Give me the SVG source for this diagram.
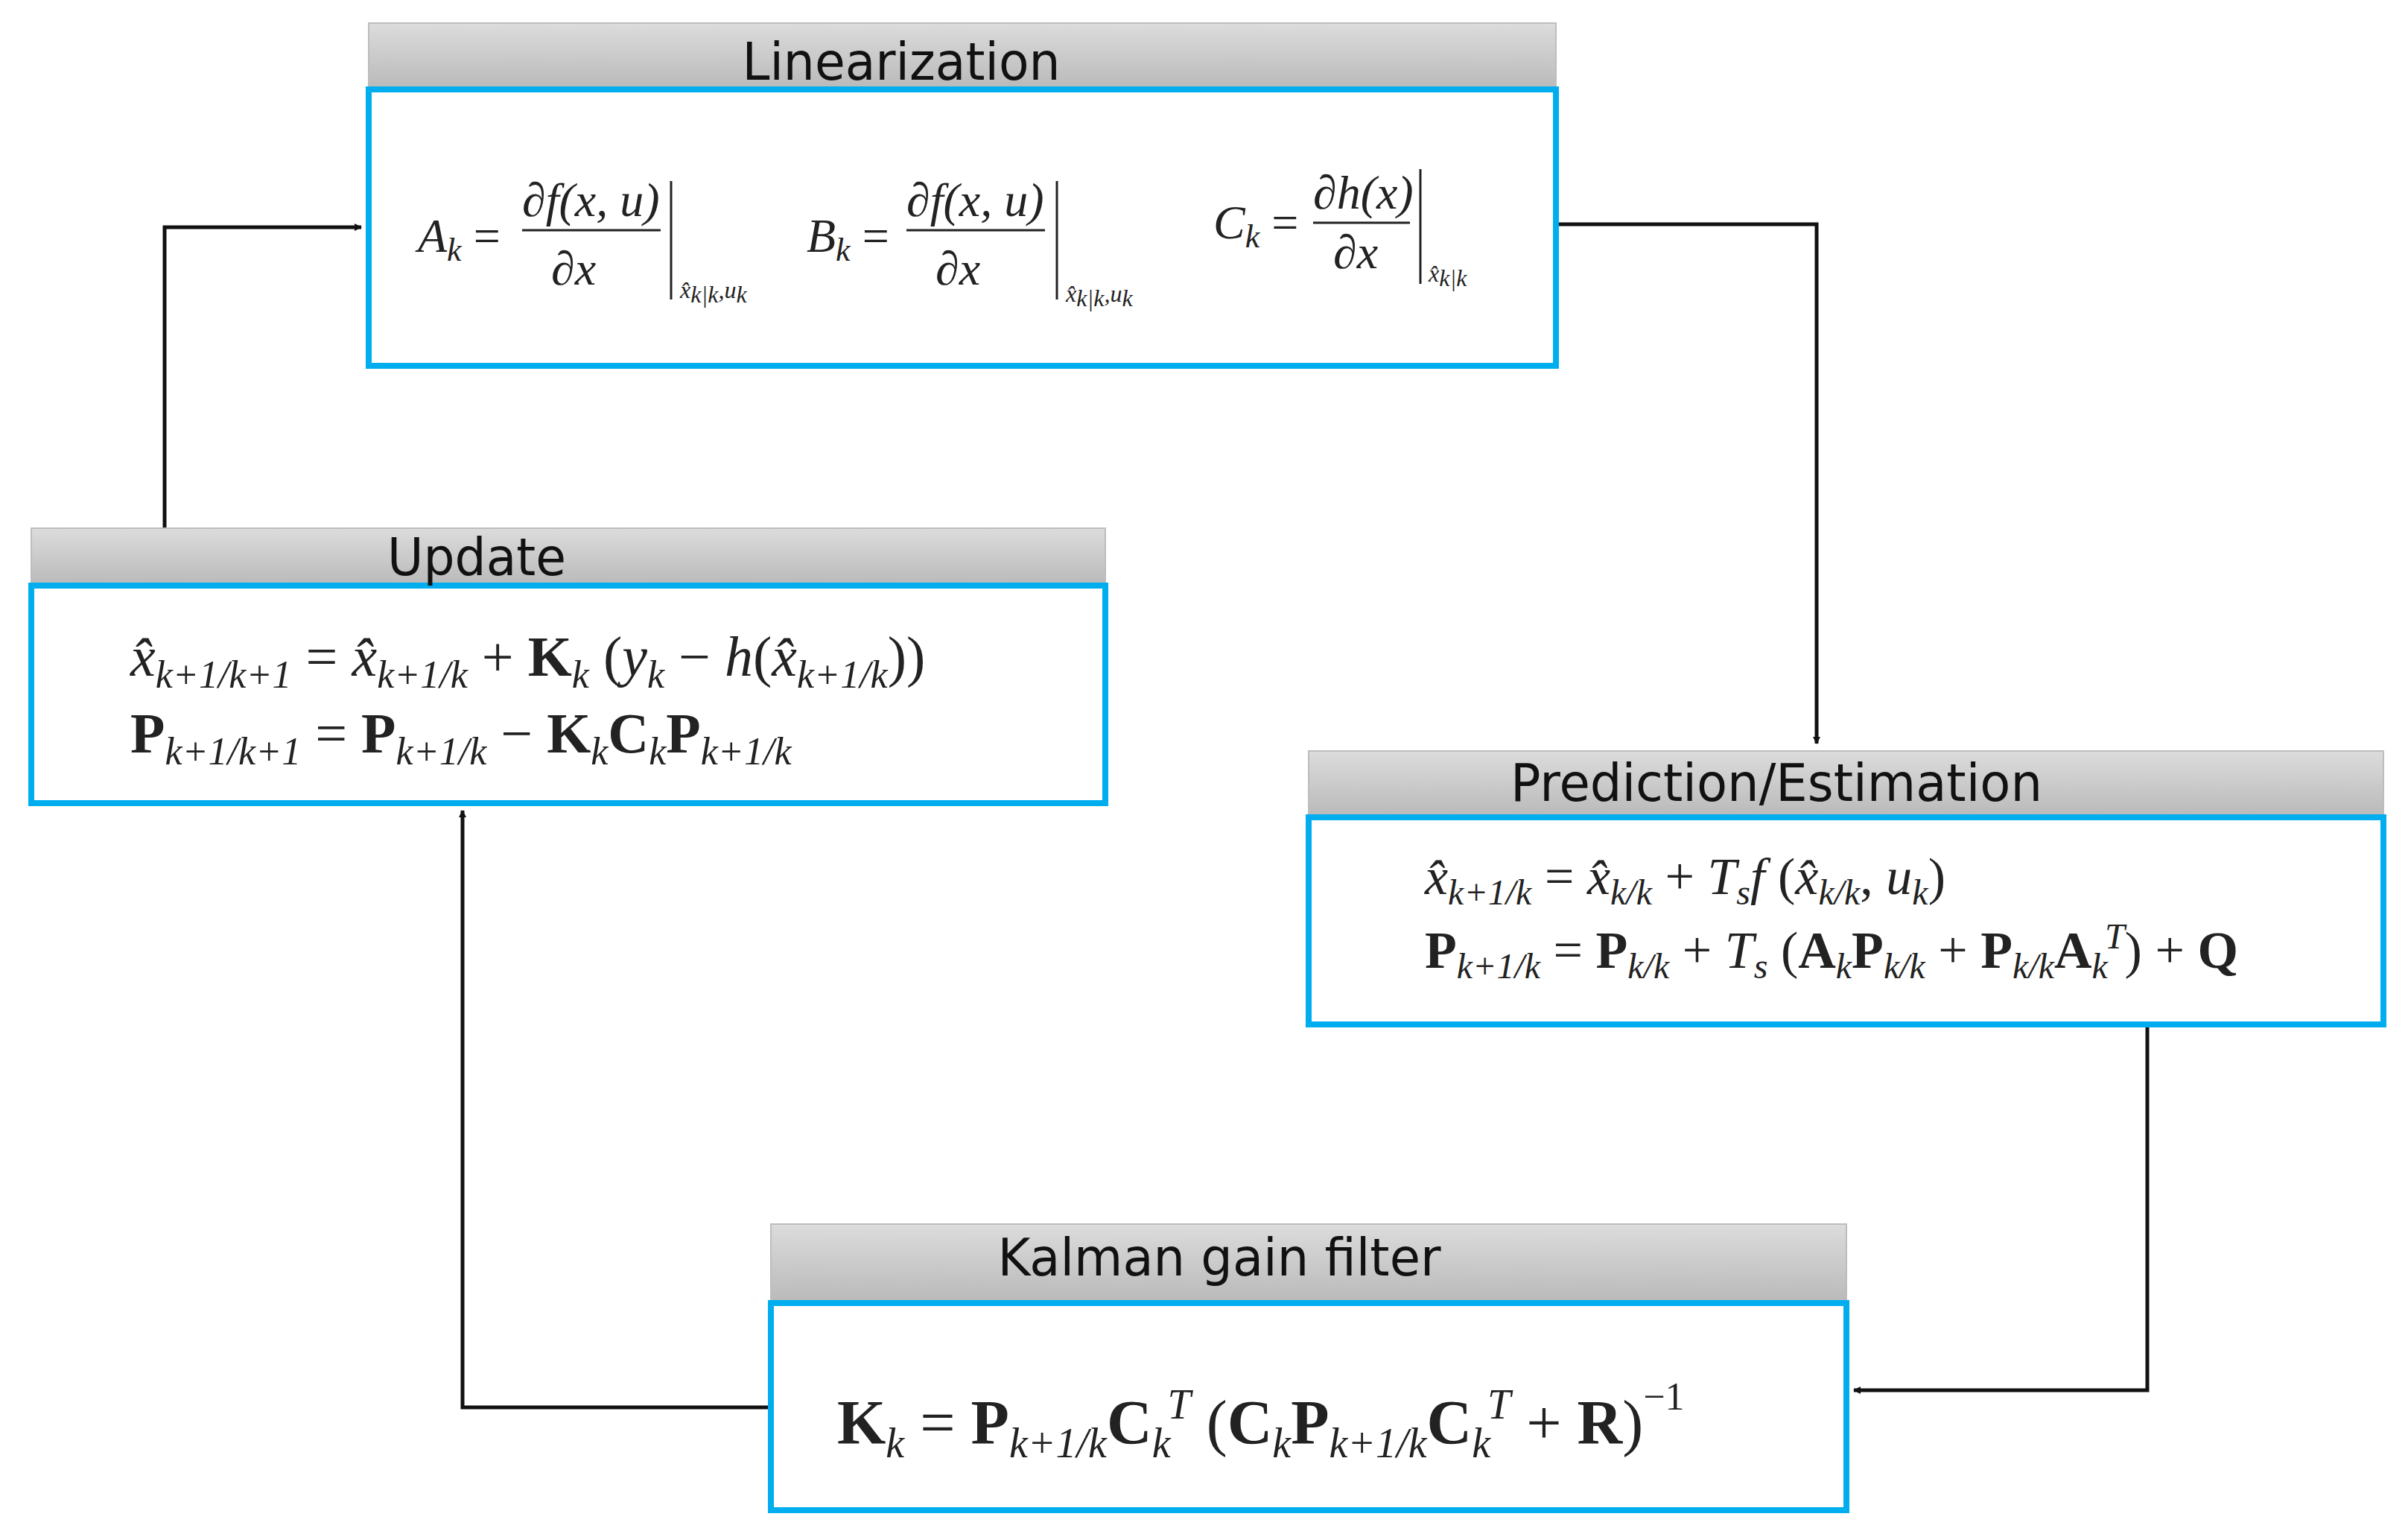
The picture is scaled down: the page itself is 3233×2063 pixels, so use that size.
<svg xmlns="http://www.w3.org/2000/svg" width="3233" height="2063" viewBox="0 0 3233 2063">
<style>
.hdr{fill:url(#g);stroke:#bdbdbd;stroke-width:2}
.box{fill:#fff;stroke:#00aeef;stroke-width:8}
.t{font-family:"DejaVu Sans",sans-serif;font-size:70px;fill:#111;text-anchor:middle}
.m{font-family:"Liberation Serif",serif;font-size:64px;fill:#222}
.i{font-style:italic}
.b{font-weight:bold}
.s{font-size:44px}
.ss{font-size:32px}
.c{stroke:#111;stroke-width:5;fill:none}
.fr{stroke:#222;stroke-width:3}
</style>
<defs>
<linearGradient id="g" x1="0" y1="0" x2="0" y2="1"><stop offset="0" stop-color="#dcdcdc"/><stop offset="1" stop-color="#b9b9b9"/></linearGradient>
<marker id="a" markerWidth="10" markerHeight="10" refX="9" refY="5" orient="auto" markerUnits="userSpaceOnUse" viewBox="0 0 10 10"><path d="M0,0 L10,5 L0,10 z" fill="#111"/></marker>
</defs>
<rect width="3233" height="2063" fill="#fff"/>

<g id="connectors">
<path class="c" d="M221,709 V305 H485" marker-end="url(#a)"/>
<path class="c" d="M2089,301 H2439 V998" marker-end="url(#a)"/>
<path class="c" d="M2883,1375 V1866 H2489" marker-end="url(#a)"/>
<path class="c" d="M1035,1889 H621 V1088" marker-end="url(#a)"/>
</g>

<g id="linearization">
<rect class="hdr" x="495" y="31" width="1594" height="89"/>
<rect class="box" x="495" y="120" width="1594" height="371"/>
<text class="t" x="1210" y="107" textLength="427" lengthAdjust="spacingAndGlyphs">Linearization</text>
<text class="m i" x="561" y="338">A<tspan class="s" dy="12">k</tspan><tspan dy="-12" font-style="normal"> =</tspan></text>
<text class="m i" x="701" y="290">∂f(x, u)</text>
<line class="fr" x1="701" y1="309" x2="887" y2="309"/>
<text class="m i" x="740" y="382">∂x</text>
<line class="fr" x1="901" y1="243" x2="901" y2="402"/>
<text class="m i ss" x="913" y="400">x̂<tspan dy="6">k|k</tspan><tspan dy="-6">,u</tspan><tspan dy="6">k</tspan></text>
<text class="m i" x="1083" y="338">B<tspan class="s" dy="12">k</tspan><tspan dy="-12" font-style="normal"> =</tspan></text>
<text class="m i" x="1217" y="290">∂f(x, u)</text>
<line class="fr" x1="1217" y1="309" x2="1403" y2="309"/>
<text class="m i" x="1256" y="382">∂x</text>
<line class="fr" x1="1419" y1="243" x2="1419" y2="402"/>
<text class="m i ss" x="1431" y="405">x̂<tspan dy="6">k|k</tspan><tspan dy="-6">,u</tspan><tspan dy="6">k</tspan></text>
<text class="m i" x="1629" y="320">C<tspan class="s" dy="12">k</tspan><tspan dy="-12" font-style="normal"> =</tspan></text>
<text class="m i" x="1763" y="280">∂h(x)</text>
<line class="fr" x1="1763" y1="299" x2="1893" y2="299"/>
<text class="m i" x="1790" y="360">∂x</text>
<line class="fr" x1="1907" y1="227" x2="1907" y2="381"/>
<text class="m i ss" x="1918" y="378">x̂<tspan dy="6">k|k</tspan></text>
</g>

<g id="update">
<rect class="hdr" x="42" y="709" width="1442" height="77"/>
<rect class="box" x="42" y="786" width="1442" height="292"/>
<text class="t" x="640" y="772" textLength="240" lengthAdjust="spacingAndGlyphs">Update</text>
<text class="m" x="175" y="907" style="font-size:76px"><tspan class="i">x̂</tspan><tspan class="i" font-size="52" dy="16">k+1/k+1</tspan><tspan dy="-16"> = </tspan><tspan class="i">x̂</tspan><tspan class="i" font-size="52" dy="16">k+1/k</tspan><tspan dy="-16"> + </tspan><tspan class="b">K</tspan><tspan class="i" font-size="52" dy="16">k</tspan><tspan dy="-16"> (</tspan><tspan class="i">y</tspan><tspan class="i" font-size="52" dy="16">k</tspan><tspan dy="-16"> − </tspan><tspan class="i">h</tspan>(<tspan class="i">x̂</tspan><tspan class="i" font-size="52" dy="16">k+1/k</tspan><tspan dy="-16">))</tspan></text>
<text class="m" x="175" y="1010" style="font-size:76px"><tspan class="b">P</tspan><tspan class="i" font-size="52" dy="16">k+1/k+1</tspan><tspan dy="-16"> = </tspan><tspan class="b">P</tspan><tspan class="i" font-size="52" dy="16">k+1/k</tspan><tspan dy="-16"> − </tspan><tspan class="b">K</tspan><tspan class="i" font-size="52" dy="16">k</tspan><tspan class="b" dy="-16">C</tspan><tspan class="i" font-size="52" dy="16">k</tspan><tspan class="b" dy="-16">P</tspan><tspan class="i" font-size="52" dy="16">k+1/k</tspan></text>
</g>

<g id="prediction">
<rect class="hdr" x="1757" y="1008" width="1443" height="89"/>
<rect class="box" x="1757" y="1097" width="1443" height="278"/>
<text class="t" x="2385" y="1075" textLength="714" lengthAdjust="spacingAndGlyphs">Prediction/Estimation</text>
<text class="m" x="1913" y="1200" style="font-size:70px"><tspan class="i">x̂</tspan><tspan class="i" font-size="48" dy="14">k+1/k</tspan><tspan dy="-14"> = </tspan><tspan class="i">x̂</tspan><tspan class="i" font-size="48" dy="14">k/k</tspan><tspan dy="-14"> + </tspan><tspan class="i">T</tspan><tspan class="i" font-size="48" dy="14">s</tspan><tspan class="i" dy="-14">f</tspan> (<tspan class="i">x̂</tspan><tspan class="i" font-size="48" dy="14">k/k</tspan><tspan dy="-14">, </tspan><tspan class="i">u</tspan><tspan class="i" font-size="48" dy="14">k</tspan><tspan dy="-14">)</tspan></text>
<text class="m" x="1913" y="1299" style="font-size:70px"><tspan class="b">P</tspan><tspan class="i" font-size="48" dy="14">k+1/k</tspan><tspan dy="-14"> = </tspan><tspan class="b">P</tspan><tspan class="i" font-size="48" dy="14">k/k</tspan><tspan dy="-14"> + </tspan><tspan class="i">T</tspan><tspan class="i" font-size="48" dy="14">s</tspan><tspan dy="-14"> (</tspan><tspan class="b">A</tspan><tspan class="i" font-size="48" dy="14">k</tspan><tspan class="b" dy="-14">P</tspan><tspan class="i" font-size="48" dy="14">k/k</tspan><tspan dy="-14"> + </tspan><tspan class="b">P</tspan><tspan class="i" font-size="48" dy="14">k/k</tspan><tspan class="b" dy="-14">A</tspan><tspan class="i" font-size="48" dy="14">k</tspan><tspan class="i" font-size="48" dy="-40" dx="-4">T</tspan><tspan dy="26">) + </tspan><tspan class="b">Q</tspan></text>
</g>

<g id="kalman">
<rect class="hdr" x="1035" y="1643" width="1444" height="106"/>
<rect class="box" x="1035" y="1749" width="1444" height="278"/>
<text class="t" x="1637" y="1712" textLength="595" lengthAdjust="spacingAndGlyphs">Kalman gain filter</text>
<text class="m" x="1124" y="1938" style="font-size:84px"><tspan class="b">K</tspan><tspan class="i" font-size="56" dy="18">k</tspan><tspan dy="-18"> = </tspan><tspan class="b">P</tspan><tspan class="i" font-size="56" dy="18">k+1/k</tspan><tspan class="b" dy="-18">C</tspan><tspan class="i" font-size="56" dy="18">k</tspan><tspan class="i" font-size="56" dy="-52" dx="-4">T</tspan><tspan dy="34"> (</tspan><tspan class="b">C</tspan><tspan class="i" font-size="56" dy="18">k</tspan><tspan class="b" dy="-18">P</tspan><tspan class="i" font-size="56" dy="18">k+1/k</tspan><tspan class="b" dy="-18">C</tspan><tspan class="i" font-size="56" dy="18">k</tspan><tspan class="i" font-size="56" dy="-52" dx="-4">T</tspan><tspan dy="34"> + </tspan><tspan class="b">R</tspan>)<tspan font-size="52" dy="-46">−1</tspan></text>
</g>
</svg>
